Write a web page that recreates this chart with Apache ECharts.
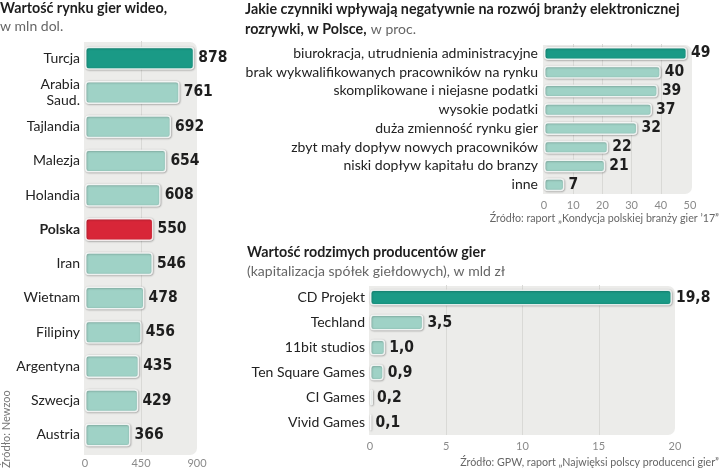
<!DOCTYPE html>
<html>
<head>
<meta charset="utf-8">
<script src="https://cdn.jsdelivr.net/npm/echarts@6/dist/echarts.min.js"></script>
<style>
html,body{margin:0;padding:0;background:#fff;}
#c{width:720px;height:469px;}
</style>
</head>
<body>
<div id="c"></div>
<script>
var countries = ['Turcja','Arabia\nSaud.','Tajlandia','Malezja','Holandia','Polska','Iran','Wietnam','Filipiny','Argentyna','Szwecja','Austria'];
var marketValues = [878,761,692,654,608,550,546,478,456,435,429,366];
var marketTicks = [0,450,900];

var factors = ['biurokracja, utrudnienia administracyjne','brak wykwalifikowanych pracowników na rynku','skomplikowane i niejasne podatki','wysokie podatki','duża zmienność rynku gier','zbyt mały dopływ nowych pracowników','niski dopływ kapitału do branzy','inne'];
var factorValues = [49,40,39,37,32,22,21,7];
var factorTicks = [0,10,20,30,40,50];

var producers = ['CD Projekt','Techland','11bit studios','Ten Square Games','CI Games','Vivid Games'];
var producerValues = [19.8,3.5,1.0,0.9,0.2,0.1];
var producerTicks = [0,5,10,15,20];

var DARK = '#1a9a86', LIGHT = '#9fd2c6', RED = '#d82638', BG = '#ececea';
var LABEL_FONT = 'Lato, "Noto Sans", sans-serif';
var NUM_FONT = '"DejaVu Sans Condensed", "Liberation Sans Narrow", sans-serif';

var grids = [
  {left:85, top:41, width:112, height:414},
  {left:544, top:44, width:146, height:150},
  {left:370, top:285, width:305, height:150}
];

function barStyle(color){
  return {color:color, borderColor:'rgba(255,255,255,0.85)', borderWidth:1.5, borderRadius:3,
    shadowColor:'rgba(0,0,0,0.35)', shadowBlur:2, shadowOffsetX:0.5, shadowOffsetY:0.5};
}
function xAxis(gi, ticks){
  return {gridIndex:gi, type:'value', min:ticks[0], max:ticks[ticks.length-1], interval:ticks[1]-ticks[0],
    axisLine:{show:false}, axisTick:{show:false},
    axisLabel:{color:'#8a8a8a', fontSize:11, fontFamily:LABEL_FONT, margin:6},
    splitLine:{show:true, showMinLine:false, showMaxLine:false, lineStyle:{color:'#d9d9d6', width:1}}};
}
function yAxis(gi, cats, fs, margin){
  return {gridIndex:gi, type:'category', data:cats, inverse:true,
    axisLine:{show:false}, axisTick:{show:false}, splitLine:{show:false},
    axisLabel:{color:'#222', fontSize:fs, fontFamily:LABEL_FONT, margin:margin, lineHeight:16,
      formatter:function(v){ return v==='Polska' ? '{b|Polska}' : v; },
      rich:{b:{fontWeight:'bold', fontSize:fs, fontFamily:LABEL_FONT, color:'#222'}}}};
}
function valLabel(fs, fmt){
  return {show:true, position:'right', distance:4, color:'#1e1e1e', fontFamily:NUM_FONT,
    fontWeight:'bold', fontSize:fs, formatter:fmt};
}

var marketData = marketValues.map(function(v,i){
  var c = i===0 ? DARK : (countries[i]==='Polska' ? RED : LIGHT);
  return {value:v, itemStyle:barStyle(c)};
});
var factorData = factorValues.map(function(v,i){ return {value:v, itemStyle:barStyle(i===0?DARK:LIGHT)}; });
var producerData = producerValues.map(function(v,i){ return {value:v, itemStyle:barStyle(i===0?DARK:LIGHT)}; });

function bgRect(g, extraRight){
  return {type:'rect', z:-10, silent:true,
    shape:{x:g.left-1, y:g.top+1, width:g.width+1+(extraRight||0), height:g.height-1, r:[0,7,7,0]},
    style:{fill:BG}};
}
var T_BOLD = {fontSize:14.3, fontWeight:'bold', color:'#1e1e1e', fontFamily:LABEL_FONT};
var T_SUB = {fontSize:14, fontWeight:'normal', color:'#666', fontFamily:LABEL_FONT};
var T_SRC = {fontSize:10.7, fontWeight:'normal', color:'#666', fontFamily:LABEL_FONT};

var chart = echarts.init(document.getElementById('c'), null, {renderer:'canvas'});
chart.setOption({
  animation:false,
  backgroundColor:'#fff',
  title:[
    {text:'Wartość rynku gier wideo,', left:0, top:1, padding:0, textStyle:T_BOLD},
    {text:'w mln dol.', left:0, top:19, padding:0, textStyle:T_SUB},
    {text:'Jakie czynniki wpływają negatywnie na rozwój branży elektronicznej', left:245, top:2, padding:0, textStyle:T_BOLD},
    {text:'{b|rozrywki, w Polsce,} {n|w proc.}', left:245, top:20, padding:0, textStyle:{fontFamily:LABEL_FONT,
      rich:{b:T_BOLD, n:T_SUB}}},
    {text:'Źródło: raport „Kondycja polskiej branży gier \u201917\u201d', right:1, top:213, padding:0, textStyle:T_SRC},
    {text:'Wartość rodzimych producentów gier', left:247, top:245, padding:0, textStyle:T_BOLD},
    {text:'(kapitalizacja spółek giełdowych), w mld zł', left:247, top:264, padding:0, textStyle:T_SUB},
    {text:'Źródło: GPW, raport „Najwięksi polscy producenci gier\u201d', right:1, top:457, padding:0, textStyle:T_SRC}
  ],
  graphic:[
    bgRect(grids[0], 0),
    bgRect(grids[1], 2),
    bgRect(grids[2], 0),
    {type:'text', x:6, y:468, rotation:Math.PI/2, silent:true,
      style:{text:'Źródło: Newzoo', fill:'#777', fontSize:11, fontFamily:LABEL_FONT, textAlign:'left', textVerticalAlign:'middle'}}
  ],
  grid:grids,
  xAxis:[xAxis(0, marketTicks), xAxis(1, factorTicks), xAxis(2, producerTicks)],
  yAxis:[yAxis(0, countries, 14, 5), yAxis(1, factors, 14, 6), yAxis(2, producers, 14, 5)],
  series:[
    {type:'bar', xAxisIndex:0, yAxisIndex:0, data:marketData, barWidth:23, label:valLabel(15.5)},
    {type:'bar', xAxisIndex:1, yAxisIndex:1, data:factorData, barWidth:13, label:valLabel(15.5)},
    {type:'bar', xAxisIndex:2, yAxisIndex:2, data:producerData, barWidth:16, label:valLabel(15.5, function(p){ return p.value.toFixed(1).replace('.', ','); })}
  ]
});
</script>
</body>
</html>
